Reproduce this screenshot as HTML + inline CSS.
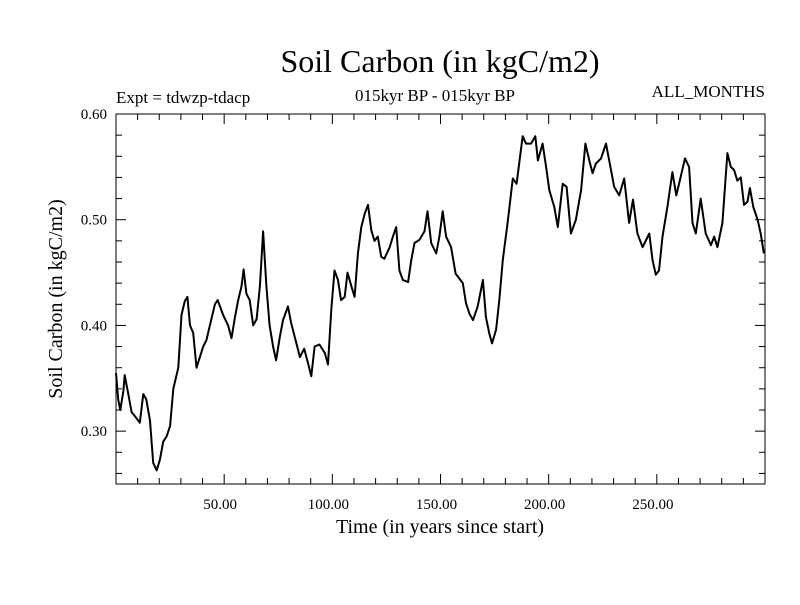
<!DOCTYPE html>
<html><head><meta charset="utf-8"><style>
body{margin:0;background:#fff}
svg text{font-family:"Liberation Serif",serif;fill:#000}
</style></head><body>
<svg id="chart" width="800" height="600" xmlns="http://www.w3.org/2000/svg">
<rect width="800" height="600" fill="#fff"/>
<text x="440" y="72" font-size="32" text-anchor="middle">Soil Carbon (in kgC/m2)</text>
<text x="435" y="101" font-size="17" text-anchor="middle">015kyr BP - 015kyr BP</text>
<text x="116" y="103" font-size="17">Expt = tdwzp-tdacp</text>
<text x="765" y="97" font-size="17" text-anchor="end">ALL_MONTHS</text>
<text x="440" y="533" font-size="20" text-anchor="middle">Time (in years since start)</text>
<text transform="translate(62,299) rotate(-90)" font-size="20" text-anchor="middle">Soil Carbon (in kgC/m2)</text>
<g id="axes"></g>
<path id="series" fill="none" stroke="#000" stroke-width="2" stroke-linejoin="round"/>
<rect x="116" y="114" width="649" height="370" fill="none" stroke="#000" stroke-width="1"/>
</svg>
<script>
const years=[0,1,2,3.4,4,5.7,7.2,8.8,11,12.6,14,15.7,17.2,18.8,20.3,21.8,23.4,25,26.5,28.8,30.3,31.8,33,34.2,35.7,37.2,38.8,40.3,41.8,43.4,45.7,47,49.5,51.8,53.4,55,56.5,58,59,60.3,61.8,63.4,65,66.5,68,69.5,71,72.6,74,75.7,77.2,79.5,81,83.4,85,87,88.8,90.3,91.8,94,96.5,98,99.5,101,102.6,104,105.7,107,108.8,110.3,111.8,113.4,115,116.5,118,119.5,121,122.6,124,126.5,128,129.5,131,132.6,135,136.5,138,140.3,142.6,144,145.7,148,149.5,151,152.6,154.9,157,160.3,161.8,163.4,165,167.2,169.6,171,172.6,173.8,175.7,177.2,178.8,181,183.4,185.2,186.8,188,189.5,191.9,193.8,195,197.2,198.8,200.3,202.6,204.2,206.5,208.3,210.3,212.6,215,217,218.8,220.3,221.8,224.2,226.5,228,230.3,232.6,234.9,237.2,239,241,243.4,246.5,248,249.5,251,252.6,254.9,257.2,259,260.6,263,264.9,266.5,268,270.3,272.6,275,276.5,278,280.3,282.6,284.2,285.7,287.2,288.8,290.3,291.9,293,294.6,296.6,298,299.5];
const carbon=[0.355,0.33,0.32,0.338,0.353,0.335,0.318,0.314,0.308,0.335,0.33,0.31,0.27,0.263,0.273,0.29,0.295,0.305,0.34,0.36,0.41,0.423,0.427,0.40,0.393,0.36,0.37,0.38,0.386,0.40,0.42,0.424,0.41,0.40,0.388,0.408,0.424,0.437,0.453,0.43,0.424,0.40,0.406,0.437,0.489,0.437,0.40,0.38,0.367,0.389,0.405,0.418,0.402,0.383,0.37,0.378,0.364,0.352,0.38,0.382,0.374,0.363,0.415,0.452,0.443,0.424,0.427,0.45,0.437,0.427,0.468,0.493,0.506,0.514,0.49,0.48,0.484,0.465,0.463,0.474,0.484,0.493,0.452,0.443,0.441,0.462,0.478,0.481,0.489,0.508,0.478,0.468,0.484,0.508,0.484,0.474,0.449,0.44,0.421,0.411,0.405,0.418,0.443,0.408,0.392,0.383,0.396,0.424,0.462,0.497,0.539,0.534,0.56,0.579,0.572,0.572,0.579,0.556,0.572,0.55,0.528,0.512,0.493,0.534,0.531,0.487,0.50,0.528,0.572,0.556,0.544,0.553,0.558,0.572,0.556,0.531,0.523,0.539,0.497,0.519,0.487,0.474,0.487,0.462,0.448,0.452,0.484,0.512,0.545,0.523,0.537,0.558,0.55,0.497,0.487,0.52,0.487,0.476,0.484,0.474,0.497,0.563,0.55,0.547,0.537,0.54,0.514,0.517,0.53,0.512,0.50,0.487,0.468];
const xTickLabels=["50.00","100.00","150.00","200.00","250.00"];
const xTickValues=[50,100,150,200,250];
const yTickLabels=["0.30","0.40","0.50","0.60"];
const yTickValues=[0.30,0.40,0.50,0.60];
const X0=116,X1=765,Y0=484,Y1=114,XMIN=0,XMAX=300,YMIN=0.25,YMAX=0.60;
function sx(v){return X0+(v-XMIN)/(XMAX-XMIN)*(X1-X0);}
function sy(v){return Y0-(v-YMIN)/(YMAX-YMIN)*(Y0-Y1);}
const NS="http://www.w3.org/2000/svg";
const axes=document.getElementById('axes');
function line(x1,y1,x2,y2){const l=document.createElementNS(NS,'line');l.setAttribute('x1',x1);l.setAttribute('y1',y1);l.setAttribute('x2',x2);l.setAttribute('y2',y2);l.setAttribute('stroke','#000');l.setAttribute('stroke-width','1');


axes.appendChild(l);}
function text(x,y,s,anchor){const t=document.createElementNS(NS,'text');t.setAttribute('x',x);t.setAttribute('y',y);t.setAttribute('font-size','15');t.setAttribute('text-anchor',anchor);t.textContent=s;


axes.appendChild(t);}
for(let v=10;v<300;v+=10){const x=sx(v),L=(v%50===0)?10:6;line(x,Y0,x,Y0-L);line(x,Y1,x,Y1+L);}
for(let i=0;i<xTickValues.length;i++)text(sx(xTickValues[i])-4,509,xTickLabels[i],'middle');
for(let k=0;k<=17;k++){const v=0.26+k*0.02;const y=sy(v);const major=Math.abs((v*100)%10)<0.01||Math.abs((v*100)%10-10)<0.01;const L=major?10:6;line(X0,y,X0+L,y);line(X1,y,X1-L,y);}
for(let i=0;i<yTickValues.length;i++)text(107,sy(yTickValues[i])+5,yTickLabels[i],'end');
let d='';for(let i=0;i<years.length;i++)d+=(i?'L':'M')+sx(years[i]).toFixed(1)+','+sy(carbon[i]).toFixed(1);
document.getElementById('series').setAttribute('d',d);
</script>
</body></html>
